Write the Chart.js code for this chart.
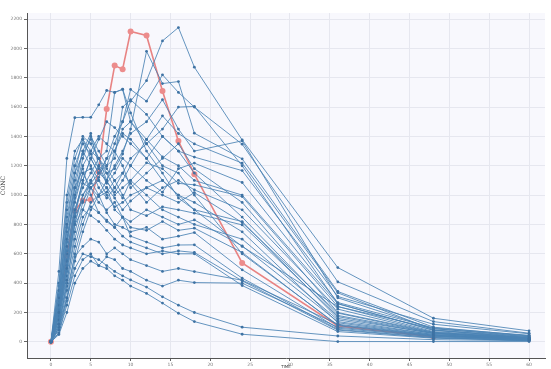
<!DOCTYPE html>
<html>
<head>
<meta charset="utf-8">
<script src="https://cdn.jsdelivr.net/npm/chart.js@4"></script>
<style>
  html, body { margin: 0; padding: 0; background: #fff; }
  #wrap { width: 551px; height: 369px; }
</style>
</head>
<body>
<div id="wrap"><canvas id="grafico"></canvas></div>
<script>
// sampling times (hours)
var times = [0, 1, 2, 3, 4, 5, 6, 7, 8, 9, 10, 12, 14, 16, 18, 24, 36, 48, 60];

// highlighted subject
var redSubject = [0, 184, 586, 893, 963, 968, 1160, 1586, 1883, 1858, 2115, 2088, 1710, 1368, 1143, 538, 109, 34, null];

// other subjects, one row per subject
var blueSubjects = [
    [0, 480, 1250, 1528, 1530, 1530, 1615, 1713, 1700, 1722, 1560, 1300, 1150, 980, 900, 650, 240, 90, 40],
    [0, 120, 420, 700, 900, 1050, 1120, 1250, 1400, 1500, 1640, 1780, 2051, 2142, 1872, 1376, 506, 161, 75],
    [0, 200, 650, 1000, 1250, 1400, 1300, 1200, 1350, 1500, 1720, 1640, 1820, 1700, 1600, 1347, 409, 138, 59],
    [0, 300, 800, 1150, 1380, 1300, 1250, 1150, 1180, 1280, 1450, 1980, 1760, 1774, 1422, 1247, 343, 100, 41],
    [0, 250, 700, 1050, 1300, 1420, 1200, 1090, 1020, 1100, 1200, 1380, 1540, 1420, 1349, 1218, 334, 82, 25],
    [0, 150, 500, 850, 1100, 1250, 1380, 1500, 1460, 1400, 1350, 1250, 1400, 1300, 1259, 1167, 309, 120, 55],
    [0, 350, 900, 1200, 1350, 1280, 1180, 1080, 1150, 1250, 1200, 1100, 1020, 1180, 1218, 1086, 268, 95, 45],
    [0, 100, 400, 750, 950, 1100, 1200, 1150, 1050, 980, 1100, 1220, 1180, 1080, 1070, 990, 241, 70, 30],
    [0, 220, 600, 950, 1150, 1180, 1050, 980, 1050, 1150, 1080, 950, 1050, 1100, 1036, 900, 223, 65, 28],
    [0, 280, 750, 1100, 1300, 1200, 1100, 1050, 980, 900, 960, 1050, 1000, 950, 1017, 813, 196, 60, 25],
    [0, 180, 550, 900, 1080, 1050, 990, 1020, 1100, 1000, 900, 860, 920, 900, 877, 797, 172, 55, 20],
    [0, 80, 300, 600, 800, 950, 1000, 1050, 900, 850, 820, 900, 850, 800, 831, 654, 138, 50, 18],
    [0, 260, 680, 980, 1150, 1050, 950, 900, 950, 850, 780, 760, 820, 760, 775, 609, 110, 40, 15],
    [0, 150, 450, 800, 1000, 1100, 1000, 880, 800, 780, 750, 780, 700, 720, 745, 491, 93, 35, 12],
    [0, 320, 780, 1050, 1180, 1000, 880, 830, 780, 850, 720, 680, 640, 660, 661, 434, 85, 30, 10],
    [0, 120, 380, 650, 850, 920, 880, 820, 780, 720, 680, 640, 600, 620, 609, 416, 80, 28, 10],
    [0, 200, 520, 800, 900, 860, 820, 760, 700, 660, 640, 600, 620, 600, 600, 384, 70, 25, 9],
    [0, 90, 350, 580, 650, 700, 680, 600, 640, 600, 560, 520, 480, 500, 479, 420, 120, 45, 20],
    [0, 60, 250, 450, 560, 600, 520, 580, 560, 500, 480, 420, 380, 420, 404, 400, 100, 38, 15],
    [0, 100, 300, 500, 600, 580, 560, 520, 480, 450, 422, 373, 307, 250, 200, 100, 40, 15, 8],
    [0, 50, 200, 400, 500, 550, 520, 500, 450, 420, 380, 330, 264, 195, 138, 52, 2, 2, 2],
    [0, 400, 1000, 1300, 1380, 1250, 1150, 1100, 1200, 1300, 1420, 1500, 1650, 1450, 1300, 1370, 300, 90, 35],
    [0, 240, 700, 1000, 1200, 1300, 1400, 1350, 1300, 1450, 1500, 1380, 1260, 1200, 1100, 1000, 260, 78, 30],
    [0, 170, 520, 880, 1100, 1250, 1150, 1250, 1300, 1200, 1050, 1150, 1250, 1350, 1180, 950, 200, 65, 25],
    [0, 310, 850, 1150, 1280, 1380, 1250, 1100, 1000, 1050, 1100, 1000, 900, 850, 800, 700, 150, 50, 20],
    [0, 140, 480, 820, 1000, 1080, 1150, 1200, 1250, 1600, 1650, 1550, 1400, 1300, 1150, 850, 180, 60, 22],
    [0, 60, 280, 550, 750, 900, 1000, 1100, 1300, 1420, 1380, 1250, 1100, 1000, 950, 750, 130, 45, 18],
    [0, 380, 950, 1250, 1400, 1350, 1250, 1300, 1700, 1720, 1500, 1350, 1200, 1150, 1000, 600, 115, 42, 16],
    [0, 230, 620, 900, 1050, 1150, 1250, 1180, 1100, 1150, 1250, 1350, 1450, 1600, 1604, 1200, 260, 80, 35],
    [0, 190, 560, 860, 960, 1050, 1100, 1000, 920, 950, 1000, 1050, 1100, 1000, 900, 820, 160, 58, 22]
];

var xTicks = [0, 5, 10, 15, 20, 25, 30, 35, 40, 45, 50, 55, 60];
var yTicks = [0, 200, 400, 600, 800, 1000, 1200, 1400, 1600, 1800, 2000, 2200];

function toPoints(valores) {
    var pontos = [];
    for (var i = 0; i < times.length; i++) {
        if (valores[i] !== null) pontos.push({ x: times[i], y: valores[i] });
    }
    return pontos;
}

var datasets = [];
for (var i = 0; i < blueSubjects.length; i++) {
    datasets.push({
        data: toPoints(blueSubjects[i]),
        borderColor: 'rgba(74, 130, 180, 0.85)',
        borderWidth: 1,
        pointRadius: 1.4,
        pointBackgroundColor: '#3e72a3',
        pointBorderWidth: 0,
        tension: 0
    });
}
datasets.push({
    data: toPoints(redSubject),
    borderColor: '#e88383',
    borderWidth: 1.6,
    pointRadius: 3,
    pointBackgroundColor: '#ec8c8c',
    pointBorderWidth: 0,
    tension: 0
});

// plot background
var plotBg = {
    id: 'plotBg',
    beforeDraw: function (chart) {
        var a = chart.chartArea;
        var ctx = chart.ctx;
        ctx.save();
        ctx.fillStyle = '#f8f8fd';
        ctx.fillRect(a.left, a.top, a.right - a.left, a.bottom - a.top);
        ctx.restore();
    }
};

var ctx = document.getElementById('grafico').getContext('2d');
new Chart(ctx, {
    type: 'line',
    data: { datasets: datasets },
    options: {
        responsive: true,
        maintainAspectRatio: false,
        animation: false,
        layout: { padding: { top: 13, right: 6, left: 0, bottom: 0 } },
        plugins: { legend: { display: false }, tooltip: { enabled: false } },
        scales: {
            x: {
                type: 'linear',
                min: -3,
                max: 62,
                afterBuildTicks: function (axis) {
                    axis.ticks = xTicks.map(function (v) { return { value: v }; });
                },
                afterFit: function (scale) { scale.height = 11; },
                grid: { color: '#e6e7ef', lineWidth: 1, tickLength: 3, tickColor: '#666' },
                border: { color: '#555', width: 1 },
                ticks: {
                    font: { size: 4.5, family: 'DejaVu Sans' }, color: '#777', padding: 1, maxRotation: 0,
                    callback: function (v) { return String(v); }
                },
                title: { display: true, text: 'TIME', font: { size: 4, family: 'DejaVu Sans' }, color: '#444', padding: 0 }
            },
            y: {
                min: -110,
                max: 2241,
                afterBuildTicks: function (axis) {
                    axis.ticks = yTicks.map(function (v) { return { value: v }; });
                },
                afterFit: function (scale) { scale.width = 27; },
                grid: { color: '#e6e7ef', lineWidth: 1, tickLength: 3, tickColor: '#666' },
                border: { color: '#555', width: 1 },
                ticks: {
                    font: { size: 4.5, family: 'DejaVu Sans' }, color: '#777', padding: 2,
                    callback: function (v) { return String(v); }
                },
                title: { display: true, text: 'CONC', font: { size: 6, family: 'DejaVu Serif' }, color: '#444', padding: 0 }
            }
        }
    },
    plugins: [plotBg]
});
</script>
</body>
</html>
